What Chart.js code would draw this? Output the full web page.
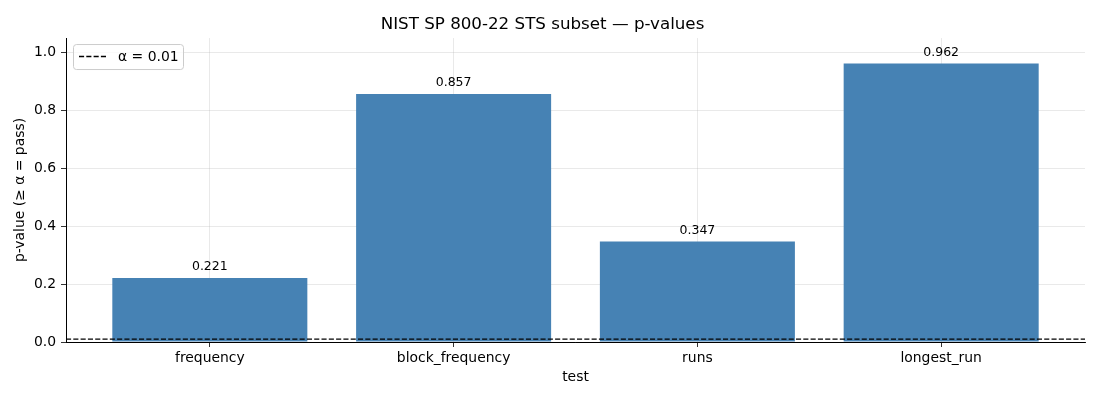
<!DOCTYPE html>
<html>
<head>
<meta charset="utf-8">
<script src="https://cdn.jsdelivr.net/npm/chart.js@4"></script>
<style>
  html, body { margin: 0; padding: 0; background: #fff; }
  #wrap { width: 1100px; height: 400px; }
</style>
</head>
<body>
<div id="wrap"><canvas id="myChart" width="1100" height="400"></canvas></div>
<script>
const tests = ['frequency', 'block_frequency', 'runs', 'longest_run'];
const pValues = [0.221, 0.857, 0.347, 0.962];
const alpha = 0.01;
const yTicks = [0, 0.2, 0.4, 0.6, 0.8, 1.0];

const FONT = 'DejaVu Sans';
const gridColor = 'rgba(176, 176, 176, 0.35)';
const dash = [5.1, 2.2];

// value labels above each bar
const barLabels = {
  id: 'barLabels',
  afterDatasetsDraw(chart) {
    const ctx = chart.ctx;
    const meta = chart.getDatasetMeta(0);
    ctx.save();
    ctx.font = '12.5px "' + FONT + '"';
    ctx.fillStyle = '#000';
    ctx.textAlign = 'center';
    ctx.textBaseline = 'alphabetic';
    meta.data.forEach((bar, i) => {
      ctx.fillText(pValues[i].toFixed(3), bar.x, bar.y - 8);
    });
    ctx.restore();
  }
};

// matplotlib-like legend inside the axes, upper left
const innerLegend = {
  id: 'innerLegend',
  afterDraw(chart) {
    const ctx = chart.ctx;
    const area = chart.chartArea;
    const x = area.left + 7, y = area.top + 6, w = 110, h = 25;
    ctx.save();
    ctx.beginPath();
    ctx.roundRect(x + 0.5, y + 0.5, w, h, 3);
    ctx.fillStyle = 'rgba(255,255,255,0.8)';
    ctx.fill();
    ctx.strokeStyle = '#cccccc';
    ctx.lineWidth = 1;
    ctx.stroke();
    ctx.beginPath();
    ctx.setLineDash(dash);
    ctx.strokeStyle = '#000';
    ctx.lineWidth = 1.4;
    ctx.moveTo(x + 6, y + 12.5);
    ctx.lineTo(x + 34, y + 12.5);
    ctx.stroke();
    ctx.setLineDash([]);
    ctx.font = '13.9px "' + FONT + '"';
    ctx.fillStyle = '#000';
    ctx.textBaseline = 'middle';
    ctx.fillText('α = ' + alpha, x + 45, y + 13);
    ctx.restore();
  }
};

const config = {
  type: 'bar',
  data: {
    datasets: [{
      label: 'p-value',
      data: tests.map((t, i) => ({ x: i, y: pValues[i] })),
      backgroundColor: '#4682b4',
      borderWidth: 0,
      barPercentage: 1.0,
      categoryPercentage: 0.8,
      order: 2
    }, {
      type: 'line',
      label: 'α = ' + alpha,
      data: [{ x: -0.59, y: alpha }, { x: 3.59, y: alpha }],
      borderColor: '#000',
      borderWidth: 1.4,
      borderDash: dash,
      pointRadius: 0,
      fill: false,
      order: 1
    }]
  },
  options: {
    responsive: false,
    animation: false,
    devicePixelRatio: 1,
    layout: { padding: { left: 0, right: 15, top: 0, bottom: 0 } },
    plugins: {
      legend: { display: false },
      tooltip: { enabled: false },
      title: {
        display: true,
        text: 'NIST SP 800-22 STS subset — p-values',
        color: '#000',
        font: { family: FONT, size: 16.7, weight: 'normal' },
        padding: { top: 15, bottom: 3 }
      }
    },
    scales: {
      x: {
        type: 'linear',
        min: -0.59,
        max: 3.59,
        offset: false,
        z: 1,
        afterBuildTicks(scale) {
          scale.ticks = tests.map((t, i) => ({ value: i }));
        },
        afterFit(scale) { scale.height = 58; },
        ticks: {
          color: '#000',
          font: { family: FONT, size: 13.9 },
          padding: 3,
          maxRotation: 0,
          autoSkip: false,
          callback: (v) => tests[v]
        },
        grid: { offset: false, color: gridColor, tickColor: '#000', tickLength: 5, lineWidth: 0.8 },
        border: { color: '#000', width: 1 },
        title: {
          display: true,
          text: 'test',
          color: '#000',
          font: { family: FONT, size: 13.9 },
          padding: { top: 0, bottom: 14 }
        }
      },
      y: {
        min: 0,
        max: 1.05,
        z: 1,
        afterBuildTicks(scale) {
          scale.ticks = yTicks.map(v => ({ value: v }));
        },
        afterFit(scale) { scale.width = 66; },
        ticks: {
          color: '#000',
          font: { family: FONT, size: 13.9 },
          padding: 5,
          callback: (v) => v.toFixed(1)
        },
        grid: { color: gridColor, tickColor: '#000', tickLength: 5, lineWidth: 0.8 },
        border: { color: '#000', width: 1 },
        title: {
          display: true,
          text: 'p-value (≥ α = pass)',
          color: '#000',
          font: { family: FONT, size: 13.9 },
          padding: { top: 12, bottom: 0 }
        }
      }
    }
  },
  plugins: [barLabels, innerLegend]
};

const myChart = new Chart(document.getElementById('myChart'), config);
</script>
</body>
</html>
